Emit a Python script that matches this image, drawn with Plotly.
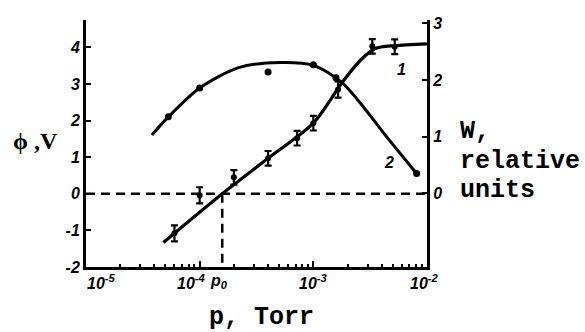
import numpy as np
import plotly.graph_objects as go

# ---------------- data ----------------
# Curve 1: potential phi (V), left axis, measured points with error bars
p_pts1 = [6.0e-5, 1.0e-4, 2.0e-4, 4.0e-4, 7.2e-4, 1.0e-3, 1.65e-3, 3.3e-3, 5.2e-3]
phi_pts1 = [-1.08, -0.04, 0.45, 0.97, 1.52, 1.93, 2.85, 4.03, 4.02]
phi_err1 = [0.22, 0.22, 0.2, 0.2, 0.2, 0.2, 0.22, 0.2, 0.2]
# Curve 1 smooth line
p_line1 = [4.8e-5, 1.58e-4, 4.0e-4, 1.0e-3, 1.8e-3, 2.6e-3, 3.5e-3, 5.2e-3, 1.0e-2]
phi_line1 = [-1.33, 0.0, 0.97, 1.93, 3.05, 3.65, 3.97, 4.05, 4.1]

# Curve 2: W (relative units), right axis
p_pts2 = [5.3e-5, 1.0e-4, 4.0e-4, 1.0e-3, 1.58e-3, 8.1e-3]
w_pts2 = [1.35, 1.86, 2.14, 2.27, 2.04, 0.35]
p_line2 = [3.8e-5, 5.3e-5, 1.0e-4, 2.2e-4, 5.1e-4, 1.0e-3, 1.8e-3, 4.7e-3, 8.1e-3]
w_line2 = [1.03, 1.35, 1.86, 2.22, 2.31, 2.26, 1.95, 0.93, 0.35]

p0 = 1.58e-4
x_range_log = [-5, -2]
phi_range = [-2, 4.75]
w_range = [-1.3, 3.06]

phi_ticks = [-2, -1, 0, 1, 2, 3, 4]
phi_ticktext = ["-2", "-1", "0", "1", "2", "3", "4"]
w_ticks = [0, 1, 2, 3]
w_ticktext = ["0", "1", "2", "3"]
x_major = [1e-5, 1e-4, 1e-3, 1e-2]
x_minor = [m * d for d in [1e-5, 1e-4, 1e-3] for m in range(2, 10)]
x_labels = ["10<sup>-5</sup>", "10<sup>-4</sup>", "10<sup>-3</sup>", "10<sup>-2</sup>"]
x_label_shift = [15, -8, 0, -3]

# ---------------- figure ----------------
BLACK = "black"
fig = go.Figure()

# dashed reference lines
fig.add_trace(go.Scatter(x=[1e-5, 1e-2], y=[0, 0], mode="lines",
                         line=dict(color=BLACK, width=2.5, dash="9px,6px"),
                         yaxis="y", hoverinfo="skip", showlegend=False, cliponaxis=False))
fig.add_trace(go.Scatter(x=[p0, p0], y=[0, -2], mode="lines",
                         line=dict(color=BLACK, width=2.5, dash="9px,6px"),
                         yaxis="y", hoverinfo="skip", showlegend=False, cliponaxis=False))

# curve 1
fig.add_trace(go.Scatter(x=p_line1, y=phi_line1, mode="lines",
                         line=dict(color=BLACK, width=3.2, shape="spline", smoothing=0.8),
                         yaxis="y", showlegend=False, cliponaxis=False))
fig.add_trace(go.Scatter(x=p_pts1, y=phi_pts1, mode="markers",
                         marker=dict(color=BLACK, size=6, symbol="circle"),
                         error_y=dict(type="data", array=phi_err1, color=BLACK, thickness=2.2, width=3.5),
                         yaxis="y", showlegend=False, cliponaxis=False))

# curve 2
fig.add_trace(go.Scatter(x=p_line2, y=w_line2, mode="lines",
                         line=dict(color=BLACK, width=3.0, shape="spline", smoothing=0.8),
                         yaxis="y2", showlegend=False, cliponaxis=False))
fig.add_trace(go.Scatter(x=p_pts2, y=w_pts2, mode="markers",
                         marker=dict(color=BLACK, size=7, symbol="circle"),
                         yaxis="y2", showlegend=False, cliponaxis=False))

tickfont = dict(family="Liberation Sans", size=16, color=BLACK, weight="bold", style="italic")
xtickfont = dict(family="Liberation Sans", size=16, color=BLACK, weight="bold", style="italic")

fig.update_layout(
    width=585, height=332,
    margin=dict(l=86, r=158, t=20, b=65),
    paper_bgcolor="white", plot_bgcolor="white",
    showlegend=False, hovermode=False,
    xaxis=dict(type="log", range=x_range_log, showline=True, linewidth=3, linecolor=BLACK,
               ticks="inside", tickvals=x_major, ticklen=6, tickwidth=2, tickcolor=BLACK,
               showticklabels=False, showgrid=False, zeroline=False,
               minor=dict(ticks="inside", tickvals=x_minor, ticklen=3, tickwidth=1.5,
                          tickcolor=BLACK, showgrid=False)),
    yaxis=dict(range=phi_range, showline=True, linewidth=3, linecolor=BLACK,
               ticks="inside", tickvals=phi_ticks, ticktext=phi_ticktext, ticklen=5,
               tickwidth=2, tickcolor=BLACK, tickfont=tickfont,
               showgrid=False, zeroline=False),
    yaxis2=dict(range=w_range, overlaying="y", side="right", showline=True, linewidth=3,
                linecolor=BLACK, ticks="inside", tickvals=w_ticks, ticktext=w_ticktext,
                ticklen=5, tickwidth=2, tickcolor=BLACK, tickfont=tickfont,
                showgrid=False, zeroline=False),
)

annotations = []
for v, t, s in zip(x_major, x_labels, x_label_shift):
    annotations.append(dict(x=np.log10(v), y=0, xref="x", yref="paper", text=t,
                            showarrow=False, xanchor="center", yanchor="top",
                            xshift=s, yshift=-3, font=xtickfont))
annotations.append(dict(x=np.log10(p0), y=0, xref="x", yref="paper", text="p<sub>0</sub>",
                        showarrow=False, xanchor="center", yanchor="top",
                        xshift=-3, yshift=-3, font=xtickfont))
# curve labels
annotations.append(dict(x=np.log10(6.0e-3), y=3.4, xref="x", yref="y", text="1",
                        showarrow=False, font=tickfont))
annotations.append(dict(x=np.log10(4.6e-3), y=0.55, xref="x", yref="y2", text="2",
                        showarrow=False, font=tickfont))
# axis titles
mono = dict(family="Liberation Mono", size=25, color=BLACK, weight="bold")
annotations.append(dict(x=0.516, y=-0.205, xref="paper", yref="paper", text="p, Torr",
                        showarrow=False, xanchor="center", yanchor="middle", font=mono))
for txt, yy in [("W,", 0.547), ("relative", 0.429), ("units", 0.308)]:
    annotations.append(dict(x=1.091, y=yy, xref="paper", yref="paper", text=txt,
                            showarrow=False, xanchor="left", yanchor="middle", font=mono))
annotations.append(dict(x=-0.147, y=0.51, xref="paper", yref="paper", text="ϕ ,V",
                        showarrow=False, xanchor="center", yanchor="middle",
                        font=dict(family="Liberation Serif", size=24, color=BLACK, weight="bold")))

fig.update_layout(annotations=annotations)
fig.write_html("out.html", config={"displayModeBar": False},
               post_script="document.body.style.margin='0px';")
